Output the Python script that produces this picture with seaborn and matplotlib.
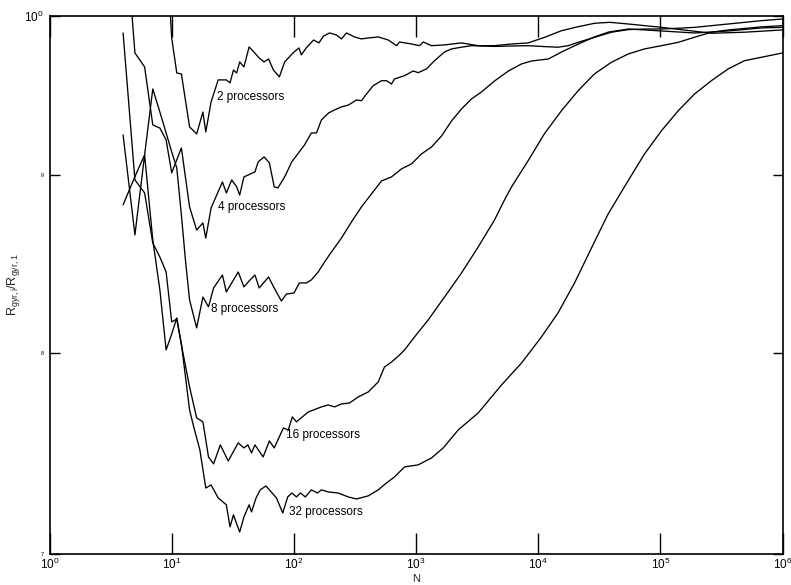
import numpy as np
import pandas as pd
import matplotlib
matplotlib.use("Agg")
import matplotlib.pyplot as plt
import seaborn as sns
from matplotlib.ticker import FixedLocator, FixedFormatter, NullLocator

# ---------------- data ----------------
n_p2 = [9, 10, 11, 12, 14, 16, 18, 19, 21, 24, 28, 30, 32, 34, 36, 39, 43, 47, 52, 57,
        62, 68, 76, 84, 100, 110, 115, 126, 145, 160, 175, 196, 223, 245, 269, 313, 357,
        405, 490, 591, 692, 731, 917, 1066, 1143, 1336, 1708, 2350, 3220, 4380, 6040,
        8270, 11300, 15500, 21200, 29000, 38500, 54400, 74400, 102000, 191000, 261000,
        490000, 1000000]
r_p2 = [1.05, 0.9855, 0.9629, 0.9623, 0.9291, 0.9248, 0.9383, 0.9260, 0.9446, 0.9585,
        0.9585, 0.9566, 0.9648, 0.9629, 0.9700, 0.9668, 0.9797, 0.9764, 0.9725, 0.9700,
        0.9719, 0.9648, 0.9604, 0.9700, 0.9764, 0.9790, 0.9745, 0.9790, 0.9842, 0.9823,
        0.9868, 0.9888, 0.9875, 0.9849, 0.9888, 0.9862, 0.9849, 0.9855, 0.9862, 0.9842,
        0.9805, 0.9829, 0.9816, 0.9805, 0.9829, 0.9805, 0.9810, 0.9823, 0.9805, 0.9805,
        0.9816, 0.9823, 0.9860, 0.9903, 0.9929, 0.9952, 0.9958, 0.9947, 0.9936, 0.9925,
        0.9899, 0.9886, 0.9893, 0.9908]

n_p4 = [4, 5, 6, 7, 8, 9, 10, 12, 14, 16, 18, 19, 21, 26, 28, 31, 34, 36, 39, 48, 51,
        57, 63, 69, 74, 84, 96, 109, 122, 139, 153, 168, 192, 215, 245, 280, 325, 357,
        405, 446, 521, 573, 629, 666, 804, 947, 1040, 1217, 1415, 1708, 1950, 2350,
        2840, 4400, 6040, 8270, 11300, 14500, 17600, 21200, 29000, 39700, 54400, 74400,
        102000, 140000, 191000, 358000, 671000, 1000000]
r_p4 = [1.08, 0.9758, 0.9668, 0.9303, 0.9284, 0.9211, 0.9012, 0.9162, 0.8811, 0.8677,
        0.8718, 0.8631, 0.8805, 0.8958, 0.8893, 0.8970, 0.8929, 0.8881, 0.8988, 0.9018,
        0.9078, 0.9108, 0.9072, 0.8929, 0.8923, 0.8988, 0.9078, 0.9132, 0.9180, 0.9254,
        0.9254, 0.9334, 0.9377, 0.9396, 0.9415, 0.9427, 0.9458, 0.9454, 0.9509, 0.9549,
        0.9580, 0.9580, 0.9559, 0.9591, 0.9612, 0.9642, 0.9631, 0.9655, 0.9708, 0.9764,
        0.9784, 0.9795, 0.9805, 0.9800, 0.9803, 0.9805, 0.9799, 0.9795, 0.9805, 0.9827,
        0.9860, 0.9893, 0.9910, 0.9914, 0.9914, 0.9919, 0.9925, 0.9947, 0.9969, 0.9980]

n_p8 = [4, 5, 6, 7, 8, 9, 10, 11, 12, 13, 14, 16, 18, 20, 22, 26, 28, 35, 39, 43, 48,
        52, 62, 69, 79, 87, 100, 111, 127, 139, 158, 178, 203, 245, 296, 357, 431, 521,
        629, 760, 917, 1107, 1336, 1614, 1950, 2350, 2840, 3430, 4380, 5700, 7290, 8800,
        12100, 15500, 21300, 28800, 37600, 54700, 102000, 190000, 360000, 670000, 1000000]
r_p8 = [0.8823, 0.8990, 0.9120, 0.9528, 0.9383, 0.9254, 0.9138, 0.9042, 0.8764, 0.8495,
        0.8284, 0.8132, 0.8300, 0.8246, 0.8350, 0.8422, 0.8328, 0.8439, 0.8356, 0.8389,
        0.8422, 0.8350, 0.8411, 0.8350, 0.8278, 0.8317, 0.8322, 0.8378, 0.8378, 0.8395,
        0.8439, 0.8495, 0.8552, 0.8631, 0.8724, 0.8811, 0.8887, 0.8964, 0.8988, 0.9036,
        0.9066, 0.9126, 0.9168, 0.9235, 0.9328, 0.9402, 0.9465, 0.9509, 0.9578, 0.9642,
        0.9687, 0.9706, 0.9719, 0.9764, 0.9816, 0.9862, 0.9894, 0.9914, 0.9901, 0.9888,
        0.9901, 0.9921, 0.9925]

n_p16 = [4, 5, 6, 7, 8, 9, 10, 11, 12, 14, 16, 18, 20, 22, 25, 29, 35, 39, 42, 45, 48,
         56, 63, 69, 82, 90, 97, 105, 131, 168, 191, 215, 245, 285, 336, 406, 490, 551,
         629, 731, 804, 970, 1256, 1708, 2350, 3220, 4380, 5290, 6040, 8270, 11200,
         15500, 21200, 28800, 39700, 54400, 74000, 102000, 140000, 190000, 261000,
         360000, 670000, 1000000]
r_p16 = [0.9888, 0.8970, 0.8893, 0.8603, 0.8523, 0.8439, 0.8164, 0.8180, 0.8041, 0.7820,
         0.7661, 0.7641, 0.7465, 0.7431, 0.7525, 0.7445, 0.7535, 0.7510, 0.7525, 0.7485,
         0.7525, 0.7465, 0.7545, 0.7510, 0.7610, 0.7600, 0.7666, 0.7641, 0.7691, 0.7717,
         0.7727, 0.7717, 0.7732, 0.7737, 0.7768, 0.7794, 0.7846, 0.7924, 0.7950, 0.7987,
         0.8014, 0.8083, 0.8175, 0.8300, 0.8433, 0.8580, 0.8735, 0.8852, 0.8929, 0.9086,
         0.9248, 0.9392, 0.9517, 0.9623, 0.9698, 0.9751, 0.9784, 0.9805, 0.9827, 0.9860,
         0.9893, 0.9908, 0.9928, 0.9936]

n_p32 = [4, 5, 6, 7, 8, 9, 10, 11, 12, 14, 15, 17, 19, 21, 24, 28, 30, 32, 36, 39, 43,
         45, 49, 53, 59, 63, 72, 81, 89, 96, 105, 113, 124, 139, 156, 168, 191, 230, 278,
         325, 406, 490, 573, 666, 804, 1040, 1336, 1667, 2210, 3220, 5000, 7290, 10600,
         14500, 19800, 28800, 37300, 54400, 74000, 102000, 140000, 190000, 261000,
         358000, 487000, 670000, 1000000]
r_p32 = [0.9242, 0.8649, 0.9120, 0.8620, 0.8339, 0.8014, 0.8099, 0.8186, 0.8046, 0.7702,
         0.7625, 0.7500, 0.7313, 0.7328, 0.7265, 0.7232, 0.7127, 0.7184, 0.7103, 0.7174,
         0.7232, 0.7198, 0.7265, 0.7304, 0.7323, 0.7304, 0.7265, 0.7193, 0.7270, 0.7289,
         0.7270, 0.7289, 0.7270, 0.7304, 0.7289, 0.7304, 0.7294, 0.7289, 0.7270, 0.7260,
         0.7275, 0.7304, 0.7338, 0.7367, 0.7416, 0.7426, 0.7460, 0.7510, 0.7600, 0.7686,
         0.7830, 0.7945, 0.8083, 0.8213, 0.8378, 0.8609, 0.8770, 0.8966, 0.9126, 0.9268,
         0.9392, 0.9496, 0.9580, 0.9655, 0.9708, 0.9730, 0.9758]

series_names = ["2 processors", "4 processors", "8 processors", "16 processors", "32 processors"]
series_n = [n_p2, n_p4, n_p8, n_p16, n_p32]
series_r = [r_p2, r_p4, r_p8, r_p16, r_p32]

# label anchor values (N, R) for curve annotations
label_n = [23.5, 23.9, 21.0, 85.7, 91.2]
label_r = [0.9477, 0.8811, 0.8235, 0.7575, 0.7198]

x_tick_exps = [0, 1, 2, 3, 4, 5, 6]
y_minor_vals = [0.7, 0.8, 0.9]
y_minor_labels = ["7", "8", "9"]

# ---------------- build frame ----------------
frames = []
for name, ns, rs in zip(series_names, series_n, series_r):
    frames.append(pd.DataFrame({"N": ns, "R": rs, "series": name}))
df = pd.concat(frames, ignore_index=True)

# ---------------- style ----------------
sns.set_style("white")
plt.rcParams["font.family"] = ["Liberation Sans", "DejaVu Sans"]
plt.rcParams["mathtext.fontset"] = "custom"
plt.rcParams["mathtext.rm"] = "Liberation Sans"
plt.rcParams["mathtext.it"] = "Liberation Sans:italic"
plt.rcParams["mathtext.bf"] = "Liberation Sans:bold"

fig = plt.figure(figsize=(7.91, 5.85), dpi=100)
ax = fig.add_axes([0.0626, 0.0530, 0.9269, 0.9197])

sns.lineplot(data=df, x="N", y="R", hue="series", hue_order=series_names,
             palette=["black"] * len(series_names), estimator=None, sort=False,
             legend=False, linewidth=0.95, ax=ax)

ax.set_xscale("log")
ax.set_yscale("log")
ax.set_xlim(1, 1e6)
ax.set_ylim(0.7, 1.0)

ax.xaxis.set_major_locator(FixedLocator([10.0 ** k for k in x_tick_exps]))
ax.xaxis.set_major_formatter(FixedFormatter([f"$10^{{{k}}}$" for k in x_tick_exps]))
ax.xaxis.set_minor_locator(NullLocator())

ax.yaxis.set_major_locator(FixedLocator([1.0]))
ax.yaxis.set_major_formatter(FixedFormatter(["$10^{0}$"]))
ax.yaxis.set_minor_locator(FixedLocator(y_minor_vals))
ax.yaxis.set_minor_formatter(FixedFormatter(y_minor_labels))

ax.tick_params(axis="x", which="major", direction="in", length=15, width=1.0,
               top=True, bottom=True, labelsize=8.5, pad=2, colors="black")
ax.tick_params(axis="y", which="major", direction="in", length=7, width=1.0,
               left=True, right=True, labelsize=8.5, pad=4, colors="black")
ax.tick_params(axis="y", which="minor", direction="in", length=7, width=1.0,
               left=True, right=True, labelsize=4, pad=4, colors="black")

for sp in ax.spines.values():
    sp.set_color("black")
    sp.set_linewidth(1.2)

ax.set_xlabel("N", fontsize=8)
ax.xaxis.set_label_coords(0.5, -0.037)
ax.set_ylabel(r"$\mathregular{R_{gyr,i}/R_{gyr,1}}$", fontsize=9, labelpad=2)

for name, xn, yr in zip(series_names, label_n, label_r):
    ax.text(xn, yr, name, fontsize=8.5, va="center", ha="left", color="black")

fig.savefig("out.png", dpi=100)
